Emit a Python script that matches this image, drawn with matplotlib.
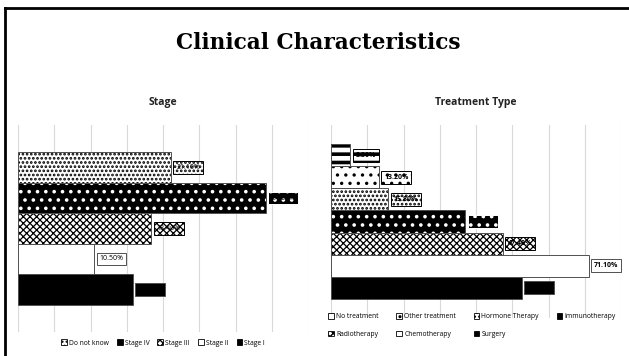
import matplotlib
matplotlib.use('Agg')
import matplotlib.pyplot as plt
from matplotlib.lines import Line2D
from matplotlib.patches import Patch

# ---------------- data ----------------
stage_labels = ['Do not know', 'Stage IV', 'Stage III', 'Stage II', 'Stage I']
stage_values = [21.1, 34.2, 18.4, 10.5, 15.8]
stage_text = ['21.10%', '34.20%', '18.40%', '10.50%', '15.80%']

treat_labels = ['No treatment', 'Other treatment', 'Hormone Therapy', 'Immunotherapy',
                'Radiotherapy', 'Chemotherapy', 'Surgery']
treat_values = [5.3, 13.2, 15.8, 37.0, 47.4, 71.1, 52.6]
treat_text = ['5.30%', '13.20%', '15.80%', '37.00%', '47.40%', '71.10%', '52.60%']

# ---------------- styles (face, hatch colour, hatch, hatch lw) ----------------
stage_styles = [('white', 'black', '....', 1.3),
                ('black', 'white', '..', 1.4),
                ('white', 'black', 'xxxxx', 0.9),
                ('white', None, '', 1.0),
                ('black', None, '', 1.0)]
treat_styles = [('white', 'black', '--', 2.6),
                ('white', 'black', '..', 1.2),
                ('white', 'black', '....', 1.3),
                ('black', 'white', '..', 1.4),
                ('white', 'black', 'xxxxx', 0.9),
                ('white', None, '', 1.0),
                ('black', None, '', 1.0)]

W, H = 629, 356
fig = plt.figure(figsize=(W / 100, H / 100), dpi=100)
fig.patch.set_facecolor('white')

FONT = ['Open Sans', 'DejaVu Sans']
EDGE = '#505050'


def set_hlw(p, lw):
    if hasattr(p, 'set_hatch_linewidth'):
        p.set_hatch_linewidth(lw)


def draw_panel(rect, labels, values, texts, styles, xmax, ymargin, bold_labels):
    ax = fig.add_axes(rect)
    n = len(values)
    ys = list(range(n))
    for i in range(n):
        fc, hc, hatch, hlw = styles[i]
        with plt.rc_context({'hatch.linewidth': hlw}):
            bars = ax.barh([ys[i]], [values[i]], height=1.0, color=fc,
                           edgecolor=hc if hc else fc, hatch=hatch if hatch else None,
                           linewidth=0, zorder=2)
            for b in bars:
                set_hlw(b, hlw)
        ax.barh([ys[i]], [values[i]], height=1.0, fill=False, edgecolor=EDGE,
                linewidth=0.7, zorder=3)
        with plt.rc_context({'hatch.linewidth': hlw}):
            t = ax.annotate(texts[i], xy=(values[i], ys[i]), xytext=(3.8, 0),
                            textcoords='offset points', ha='left', va='center',
                            fontsize=5.0, family=FONT,
                            fontweight='bold' if bold_labels else 'normal',
                            color='black', zorder=5,
                            bbox=dict(boxstyle='square,pad=0.4', fc=fc,
                                      ec=hc if hc else EDGE,
                                      hatch=hatch if hatch else None, lw=0.7))
            bp = t.get_bbox_patch()
            if bp is not None:
                set_hlw(bp, hlw)
    ax.set_xlim(0, xmax)
    ax.set_ylim(n - 0.5 + ymargin, -0.5 - ymargin)
    ax.set_xticks([xmax / 8 * k for k in range(9)])
    ax.grid(axis='x', color='#d9d9d9', linewidth=0.8, zorder=0)
    ax.set_axisbelow(True)
    ax.tick_params(left=False, bottom=False, labelleft=False, labelbottom=False)
    for s in ax.spines.values():
        s.set_visible(False)
    return ax


ax1 = draw_panel([18 / W, 1 - 332 / H, 290 / W, 207 / H], stage_labels, stage_values,
                 stage_text, stage_styles, 40, 0.9, False)
ax2 = draw_panel([331 / W, 1 - 318 / H, 290 / W, 193 / H], treat_labels, treat_values,
                 treat_text, treat_styles, 80, 0.88, True)

# ---------------- titles ----------------
fig.text(318 / W, 1 - 43 / H, 'Clinical Characteristics', ha='center', va='center',
         fontsize=15.6, fontweight='bold', family=['DejaVu Serif'])
fig.text(163 / W, 1 - 103 / H, 'Stage', ha='center', va='center', fontsize=7.5,
         fontweight='bold', family=FONT, color='#222222')
fig.text(476 / W, 1 - 103 / H, 'Treatment Type', ha='center', va='center', fontsize=7.5,
         fontweight='bold', family=FONT, color='#222222')


# ---------------- legends ----------------
def make_handles(labels, styles):
    hs = []
    for lab, (fc, hc, hatch, hlw) in zip(labels, styles):
        if fc == 'black':
            hs.append(Patch(facecolor='black', edgecolor='black', linewidth=0.6, label=lab))
        else:
            hs.append(Patch(facecolor=fc, edgecolor='black',
                            hatch=hatch if hatch else None, linewidth=0.6, label=lab))
    return hs


h1 = make_handles(stage_labels, stage_styles)
leg1 = fig.legend(handles=h1, loc='center', bbox_to_anchor=(163 / W, 1 - 343 / H),
                  ncol=5, frameon=False, prop={'family': FONT, 'size': 4.9},
                  handlelength=0.85, handleheight=0.85, handletextpad=0.3,
                  columnspacing=1.2, borderpad=0, borderaxespad=0)

h2 = make_handles(treat_labels, treat_styles)
order = [0, 4, 1, 5, 2, 6, 3]
leg2 = fig.legend(handles=[h2[i] for i in order], loc='center',
                  bbox_to_anchor=(472 / W, 1 - 325.5 / H), ncol=4, frameon=False,
                  prop={'family': FONT, 'size': 4.9},
                  handlelength=0.85, handleheight=0.85, handletextpad=0.3,
                  columnspacing=2.6, labelspacing=1.5, borderpad=0, borderaxespad=0)

# ---------------- frame ----------------
fig.add_artist(Line2D([4.5 / W, 4.5 / W], [0, 1 - 7.5 / H], transform=fig.transFigure,
                      color='black', linewidth=2.0, solid_capstyle='projecting'))
fig.add_artist(Line2D([4.5 / W, 1], [1 - 8 / H, 1 - 8 / H], transform=fig.transFigure,
                      color='black', linewidth=2.0, solid_capstyle='projecting'))

fig.savefig('out.png', dpi=100, facecolor='white')
